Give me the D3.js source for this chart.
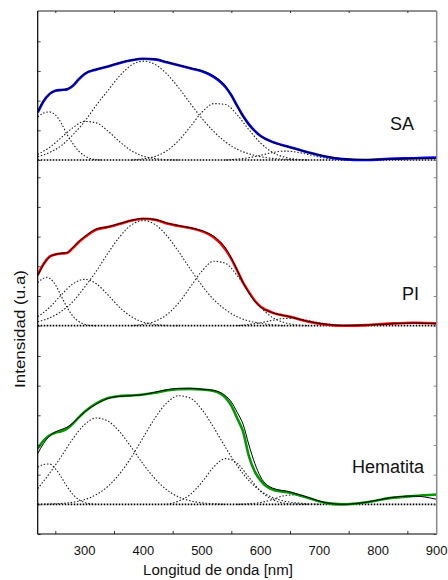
<!DOCTYPE html>
<html>
<head>
<meta charset="utf-8">
<script src="https://cdn.jsdelivr.net/npm/d3@7"></script>
<style>
  html, body { margin: 0; padding: 0; background: #fff; }
  svg { display: block; font-family: "Liberation Sans", Arial, sans-serif; }
</style>
</head>
<body>
<div id="chart"></div>
<script>
// wavelength grid (nm) for measured spectra and fits
const wavelength = [220, 230, 240, 250, 260, 270, 280, 290, 300, 320, 340, 360, 380, 400, 420, 440, 460, 480, 500, 520,
    540, 550, 560, 570, 580, 590, 600, 620, 650, 680, 710, 740, 780, 820, 860, 900];

// SA
const saMeasured = [1.60, 1.98, 2.22, 2.33, 2.36, 2.38, 2.50, 2.72, 2.90, 3.05, 3.15, 3.27, 3.36, 3.41, 3.39, 3.29, 3.19, 3.09, 2.99, 2.80,
    2.46, 2.18, 1.82, 1.48, 1.20, 0.98, 0.81, 0.61, 0.43, 0.26, 0.12, 0.03, 0.00, 0.04, 0.06, 0.08];
const saFit = [1.63, 2.00, 2.23, 2.33, 2.36, 2.39, 2.51, 2.73, 2.91, 3.06, 3.16, 3.28, 3.37, 3.42, 3.40, 3.30, 3.20, 3.10, 3.01, 2.83,
    2.50, 2.20, 1.82, 1.46, 1.17, 0.96, 0.80, 0.60, 0.42, 0.26, 0.13, 0.04, 0.01, 0.03, 0.05, 0.06];
const saPeaks = [
    [[220, 1.45], [230, 1.58], [240, 1.62], [250, 1.52], [260, 1.25], [270, 0.86], [280, 0.55], [290, 0.30], [300, 0.14], [310, 0.05], [320, 0.01], [330, 0]],
    [[220, 0.19], [240, 0.42], [260, 0.75], [280, 1.09], [300, 1.30], [320, 1.25], [340, 0.97], [360, 0.61], [380, 0.31], [400, 0.13], [420, 0.05], [440, 0.01], [460, 0]],
    [[220, 0.11], [240, 0.25], [260, 0.48], [280, 0.85], [300, 1.30], [320, 1.85], [340, 2.35], [360, 2.84], [380, 3.20], [400, 3.33], [420, 3.22], [440, 2.90], [460, 2.44],
     [480, 1.91], [500, 1.40], [520, 0.96], [540, 0.61], [560, 0.36], [580, 0.21], [600, 0.11], [620, 0.055], [640, 0.025], [660, 0.01], [680, 0]],
    [[380, 0], [400, 0.04], [420, 0.12], [440, 0.31], [460, 0.65], [480, 1.12], [500, 1.61], [520, 1.90], [540, 1.87], [560, 1.52], [580, 1.02], [600, 0.57],
     [620, 0.26], [640, 0.10], [660, 0.03], [680, 0]],
    [[540, 0], [560, 0.03], [580, 0.08], [600, 0.16], [620, 0.25], [640, 0.30], [660, 0.27], [680, 0.19], [700, 0.10], [720, 0.04], [740, 0.01], [760, 0]]
];

// PI
const piMeasured = [1.71, 2.08, 2.32, 2.40, 2.43, 2.45, 2.62, 2.82, 2.98, 3.24, 3.32, 3.43, 3.54, 3.60, 3.57, 3.44, 3.36, 3.29, 3.18, 2.98,
    2.57, 2.25, 1.86, 1.45, 1.13, 0.84, 0.64, 0.44, 0.30, 0.14, 0.04, 0.00, 0.02, 0.07, 0.10, 0.08];
const piFit = [1.68, 2.06, 2.31, 2.40, 2.44, 2.46, 2.63, 2.83, 3.00, 3.25, 3.33, 3.44, 3.55, 3.61, 3.58, 3.46, 3.37, 3.30, 3.20, 3.01,
    2.62, 2.28, 1.87, 1.45, 1.10, 0.82, 0.63, 0.44, 0.30, 0.15, 0.05, 0.01, 0.02, 0.06, 0.09, 0.06];
const piPeaks = [
    [[220, 1.45], [230, 1.60], [235, 1.63], [240, 1.60], [250, 1.38], [260, 1.00], [270, 0.62], [280, 0.32], [290, 0.14], [300, 0.05], [310, 0.01], [320, 0]],
    [[220, 0.30], [240, 0.61], [260, 1.03], [280, 1.41], [300, 1.56], [320, 1.41], [340, 1.03], [360, 0.61], [380, 0.30], [400, 0.12], [420, 0.04], [440, 0.01], [460, 0]],
    [[220, 0.13], [240, 0.26], [260, 0.48], [280, 0.81], [300, 1.30], [320, 1.84], [340, 2.45], [360, 3.00], [380, 3.40], [400, 3.54], [420, 3.41], [440, 3.03], [460, 2.50],
     [480, 1.91], [500, 1.35], [520, 0.88], [540, 0.54], [560, 0.30], [580, 0.16], [600, 0.08], [620, 0.03], [640, 0]],
    [[380, 0], [400, 0.05], [420, 0.15], [440, 0.37], [460, 0.76], [480, 1.30], [500, 1.84], [520, 2.17], [540, 2.10], [560, 1.69], [580, 1.13], [600, 0.62],
     [620, 0.28], [640, 0.11], [660, 0.03], [680, 0]],
    [[560, 0], [580, 0.04], [600, 0.10], [620, 0.18], [640, 0.24], [660, 0.24], [680, 0.18], [700, 0.10], [720, 0.04], [740, 0.01], [760, 0]]
];

// Hematita
const hemMeasured = [1.88, 2.15, 2.32, 2.41, 2.46, 2.55, 2.72, 2.93, 3.12, 3.40, 3.58, 3.65, 3.67, 3.70, 3.76, 3.84, 3.88, 3.89, 3.87, 3.82,
    3.60, 3.33, 2.90, 2.45, 1.62, 1.10, 0.80, 0.50, 0.39, 0.22, 0.05, 0.00, 0.07, 0.21, 0.28, 0.33];
const hemFit = [1.71, 2.05, 2.30, 2.44, 2.52, 2.60, 2.74, 2.93, 3.11, 3.38, 3.57, 3.64, 3.66, 3.70, 3.78, 3.86, 3.91, 3.91, 3.88, 3.84,
    3.66, 3.45, 3.10, 2.70, 2.00, 1.38, 0.92, 0.55, 0.42, 0.24, 0.06, 0.00, 0.07, 0.22, 0.28, 0.17];
const hemPeaks = [
    [[220, 1.25], [230, 1.34], [240, 1.36], [250, 1.20], [260, 0.92], [270, 0.60], [280, 0.33], [290, 0.16], [300, 0.06], [310, 0.02], [320, 0]],
    [[220, 0.53], [240, 1.04], [260, 1.61], [280, 2.21], [300, 2.69], [320, 2.91], [340, 2.80], [360, 2.44], [380, 1.91], [400, 1.35], [420, 0.86], [440, 0.49],
     [460, 0.25], [480, 0.12], [500, 0.05], [520, 0.02], [540, 0]],
    [[220, 0], [240, 0.01], [260, 0.03], [280, 0.07], [300, 0.16], [320, 0.33], [340, 0.61], [360, 1.04], [380, 1.60], [400, 2.26], [420, 2.91], [440, 3.42],
     [460, 3.66], [480, 3.58], [500, 3.19], [520, 2.59], [540, 1.92], [560, 1.30], [580, 0.80], [600, 0.45], [620, 0.23], [640, 0.11], [660, 0.05], [680, 0.02], [700, 0]],
    [[440, 0], [460, 0.11], [480, 0.33], [500, 0.75], [520, 1.26], [540, 1.54], [560, 1.38], [580, 0.91], [600, 0.44], [620, 0.16], [640, 0.04], [660, 0.01], [680, 0]],
    [[560, 0], [580, 0.02], [600, 0.06], [620, 0.16], [640, 0.29], [660, 0.32], [680, 0.23], [700, 0.11], [720, 0.03], [740, 0.01], [760, 0]]
];

// axes
const xDomain = [220, 900];
const xMajorTicks = [300, 400, 500, 600, 700, 800, 900];
const xMinorTicks = [250, 350, 450, 550, 650, 750, 850];
const panelNames = ["SA", "PI", "Hematita"];
const yDomains = [[0, 5.02], [0, 5.58], [-1, 6.02]];
const yTicks = [[0, 1, 2, 3, 4], [0, 1, 2, 3, 4, 5], [-1, 0, 1, 2, 3, 4, 5]];

const panels = [
    { name: panelNames[0], color: "#0000ff", measured: saMeasured, fit: saFit, peaks: saPeaks },
    { name: panelNames[1], color: "#ff0000", measured: piMeasured, fit: piFit, peaks: piPeaks },
    { name: panelNames[2], color: "#009a00", measured: hemMeasured, fit: hemFit, peaks: hemPeaks }
];

// layout
const width = 448, height = 580;
const left = 37.7, right = 436.7;
const panelRanges = [[160, 11], [325.7, 160], [534, 325.7]];
const labelPos = [[390, 130], [402, 300], [352, 473]];

const svg = d3.select("#chart").append("svg")
    .attr("width", width)
    .attr("height", height)
    .attr("viewBox", `0 0 ${width} ${height}`);

const x = d3.scaleLinear().domain(xDomain).range([left, right]);

svg.append("clipPath").attr("id", "plot-clip")
    .append("rect")
    .attr("x", left).attr("y", 11)
    .attr("width", right - left).attr("height", 534 - 11);

panels.forEach((p, i) => {
    const y = d3.scaleLinear().domain(yDomains[i]).range(panelRanges[i]);
    const line = d3.line()
        .x(d => x(d[0]))
        .y(d => y(d[1]))
        .curve(d3.curveMonotoneX);

    const g = svg.append("g").attr("clip-path", "url(#plot-clip)");

    // baseline (zero) dotted
    g.append("path")
        .attr("d", line([[xDomain[0], 0], [xDomain[1], 0]]))
        .attr("fill", "none")
        .attr("stroke", "#000")
        .attr("stroke-width", 1.7)
        .attr("stroke-dasharray", "1.6,1.4");

    // gaussian components
    p.peaks.forEach(pk => {
        g.append("path")
            .attr("d", line(pk))
            .attr("fill", "none")
            .attr("stroke", "#222")
            .attr("stroke-width", 1.1)
            .attr("stroke-dasharray", "1.5,1.8");
    });

    // measured spectrum
    g.append("path")
        .attr("d", line(wavelength.map((w, j) => [w, p.measured[j]])))
        .attr("fill", "none")
        .attr("stroke", p.color)
        .attr("stroke-width", 2.6);

    // fit
    g.append("path")
        .attr("d", line(wavelength.map((w, j) => [w, p.fit[j]])))
        .attr("fill", "none")
        .attr("stroke", "#000")
        .attr("stroke-width", 1);

    // y ticks, inward on both sides, no labels
    svg.append("g")
        .attr("transform", `translate(${left},0)`)
        .call(d3.axisRight(y).tickValues(yTicks[i]).tickSize(3).tickFormat(""))
        .call(a => a.select(".domain").remove())
        .call(a => a.selectAll("line").attr("stroke", "#222"));
    svg.append("g")
        .attr("transform", `translate(${right},0)`)
        .call(d3.axisLeft(y).tickValues(yTicks[i]).tickSize(3).tickFormat(""))
        .call(a => a.select(".domain").remove())
        .call(a => a.selectAll("line").attr("stroke", "#666"));

    svg.append("text")
        .attr("x", labelPos[i][0])
        .attr("y", labelPos[i][1])
        .attr("font-size", "18px")
        .attr("fill", "#111")
        .text(p.name);
});

// x ticks (bottom and top, inward)
const xAxisBottom = svg.append("g").attr("transform", "translate(0,534)");
xAxisBottom.call(d3.axisTop(x).tickValues(xMajorTicks).tickSize(4).tickFormat(""));
xAxisBottom.call(d3.axisTop(x).tickValues(xMinorTicks).tickSize(3).tickFormat(""));
xAxisBottom.selectAll(".domain").remove();

const xAxisTop = svg.append("g").attr("transform", "translate(0,11)");
xAxisTop.call(d3.axisBottom(x).tickValues(xMajorTicks).tickSize(3).tickFormat(""));
xAxisTop.call(d3.axisBottom(x).tickValues(xMinorTicks).tickSize(2).tickFormat(""));
xAxisTop.selectAll(".domain").remove();
svg.selectAll(".tick line").attr("stroke-width", 0.8);

// tick labels
svg.append("g").selectAll("text")
    .data(xMajorTicks)
    .join("text")
    .attr("x", d => x(d))
    .attr("y", 555)
    .attr("text-anchor", "middle")
    .attr("font-size", "13px")
    .attr("fill", "#111")
    .text(d => d);

// frame
svg.append("line").attr("x1", left).attr("x2", right).attr("y1", 11).attr("y2", 11)
    .attr("stroke", "#222").attr("stroke-width", 1);
svg.append("line").attr("x1", left).attr("x2", right).attr("y1", 534).attr("y2", 534)
    .attr("stroke", "#000").attr("stroke-width", 1.2);
svg.append("line").attr("x1", left).attr("x2", left).attr("y1", 11).attr("y2", 534)
    .attr("stroke", "#000").attr("stroke-width", 1.2);
svg.append("line").attr("x1", right).attr("x2", right).attr("y1", 11).attr("y2", 534)
    .attr("stroke", "#888").attr("stroke-width", 1.5);

// axis titles
svg.append("text")
    .attr("x", 218)
    .attr("y", 575)
    .attr("text-anchor", "middle")
    .attr("font-size", "14px")
    .attr("fill", "#111")
    .attr("textLength", 150)
    .attr("lengthAdjust", "spacingAndGlyphs")
    .text("Longitud de onda [nm]");

svg.append("text")
    .attr("transform", "translate(25,329) rotate(-90)")
    .attr("text-anchor", "middle")
    .attr("font-size", "14px")
    .attr("fill", "#111")
    .attr("textLength", 118)
    .attr("lengthAdjust", "spacingAndGlyphs")
    .text("Intensidad (u.a)");
</script>
</body>
</html>
